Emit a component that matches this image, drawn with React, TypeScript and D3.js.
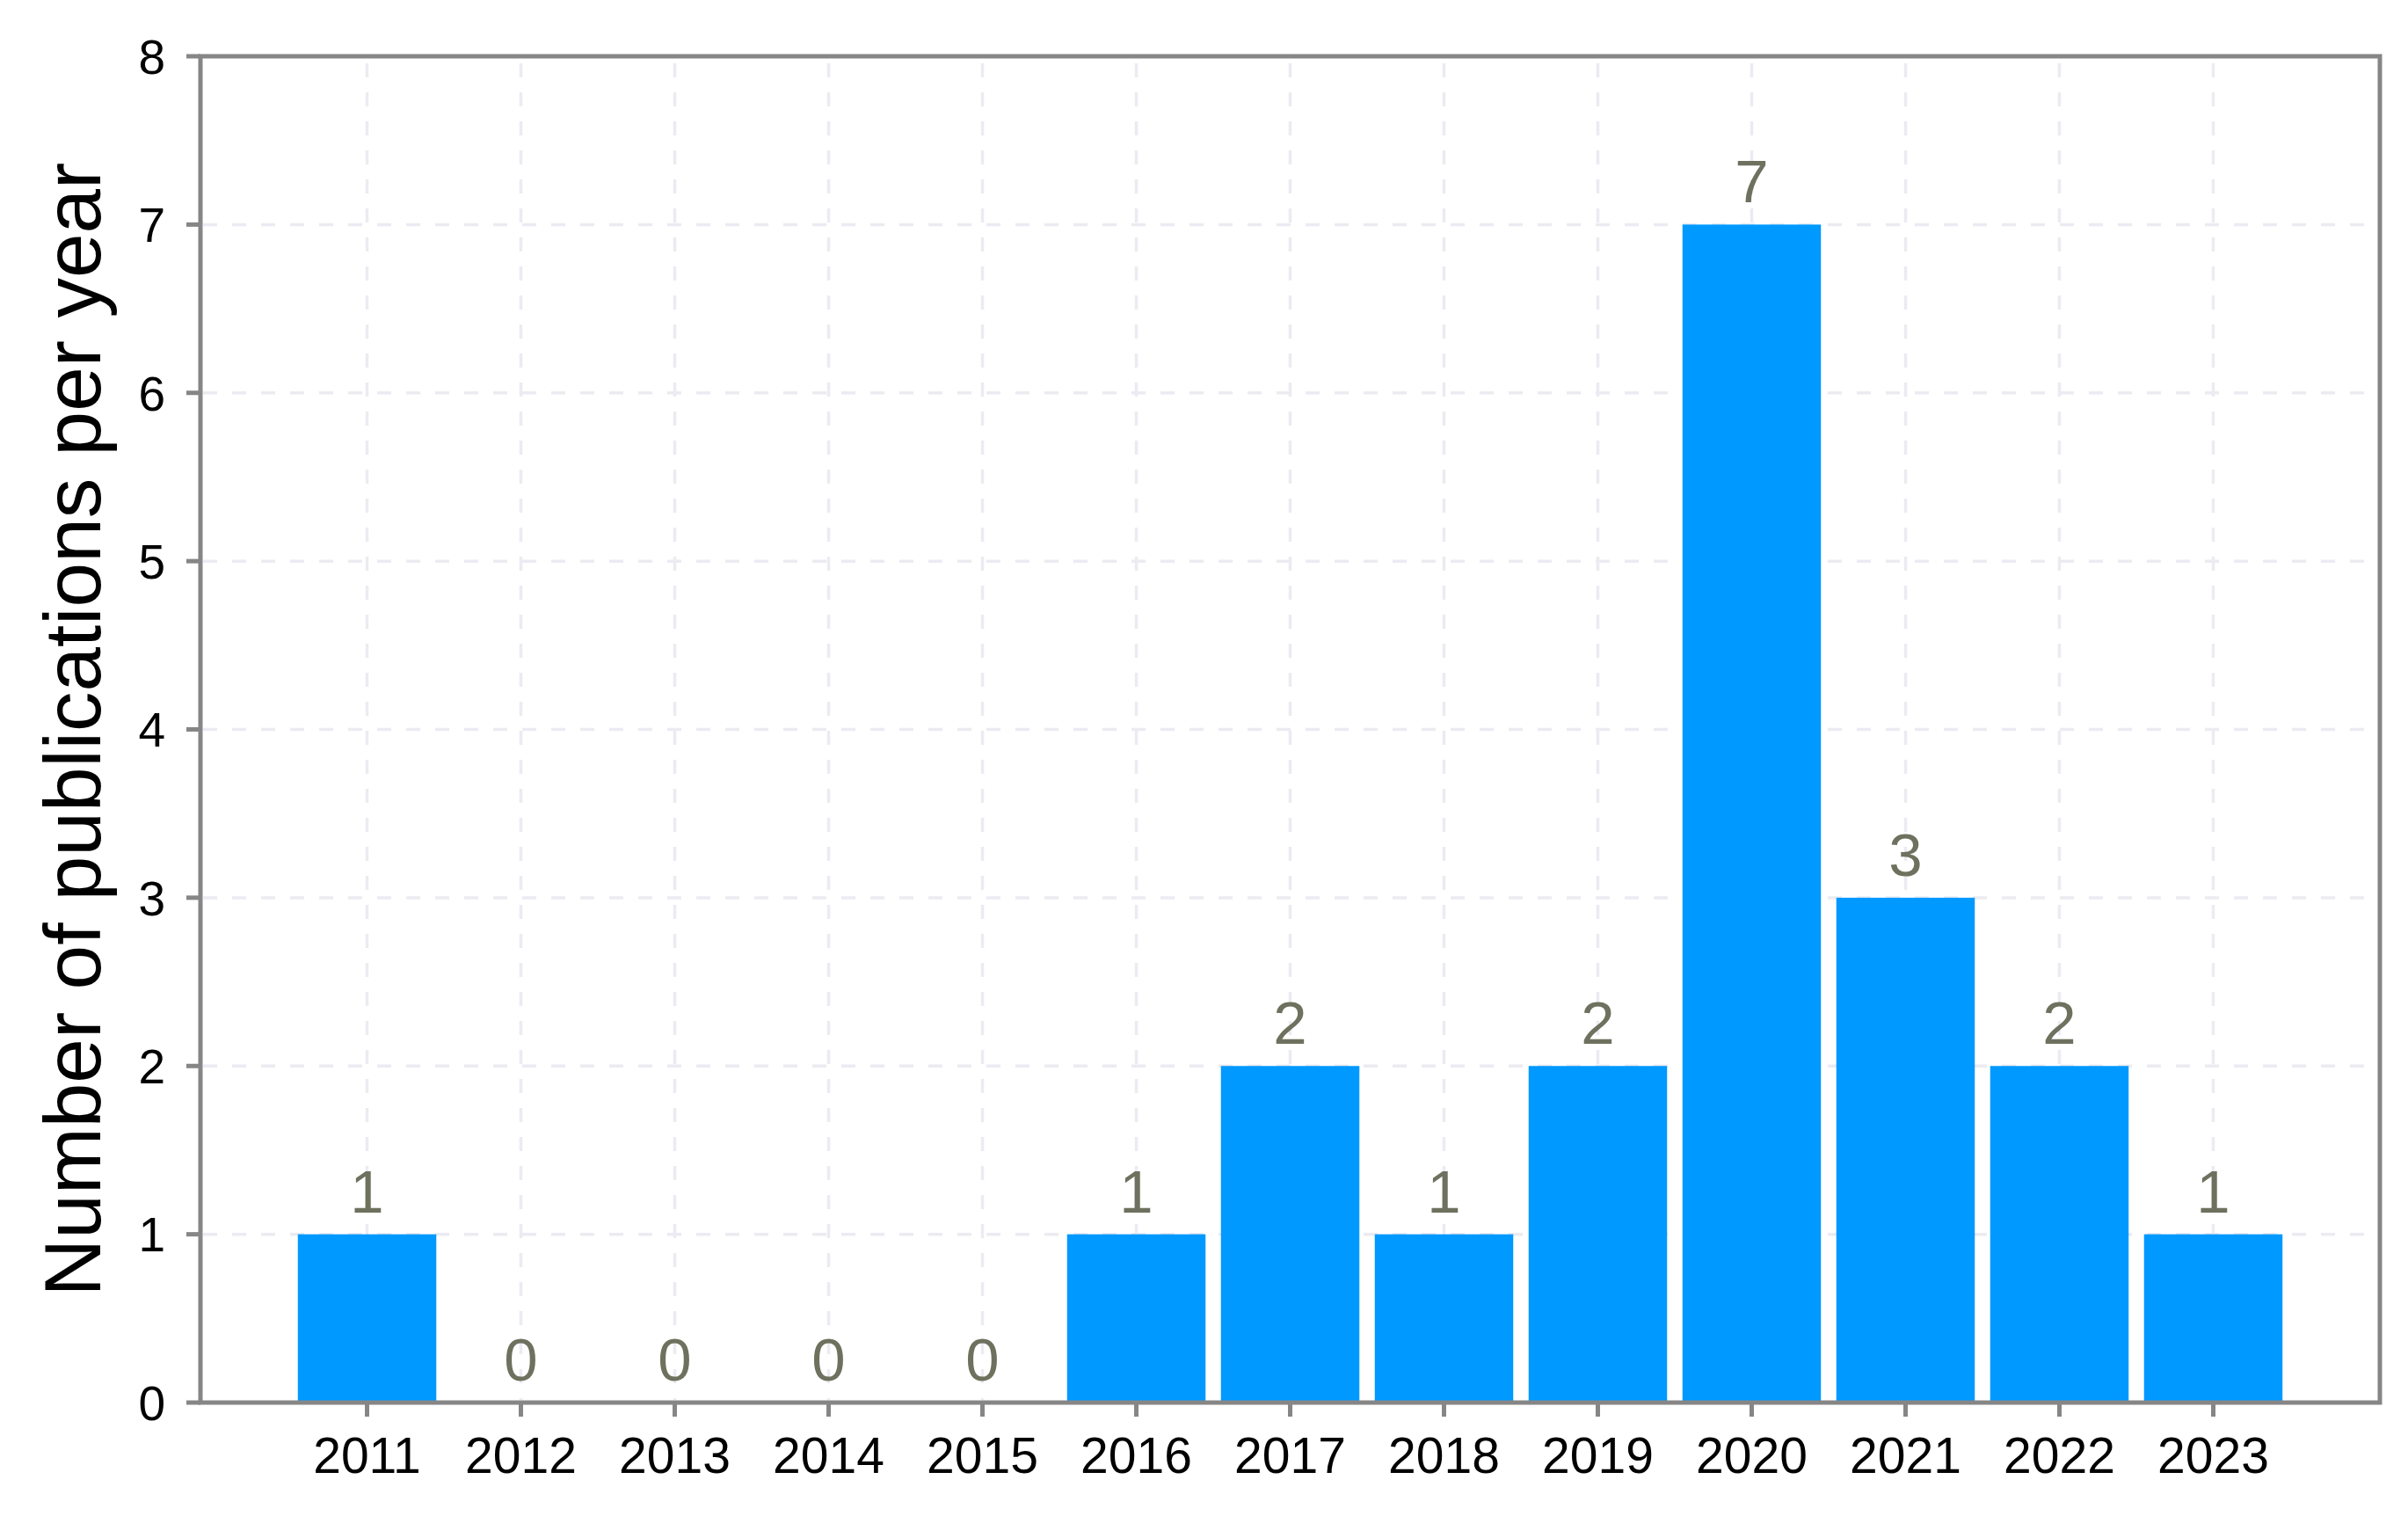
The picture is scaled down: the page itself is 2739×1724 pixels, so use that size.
import React from "react";
import * as d3 from "d3";

const years: string[] = ["2011", "2012", "2013", "2014", "2015", "2016", "2017", "2018", "2019", "2020", "2021", "2022", "2023"];
const counts: number[] = [1, 0, 0, 0, 0, 1, 2, 1, 2, 7, 3, 2, 1];
const yTicks: number[] = [0, 1, 2, 3, 4, 5, 6, 7, 8];
const yTitle = "Number of publications per year";

const W = 2739;
const H = 1724;
const left = 228;
const right = 2707;
const top = 64;
const bottom = 1595;
const FONT = "'Liberation Sans', Arial, sans-serif";
const AXIS = "#868686";
const GRID = "#ebebf2";
const BAR = "#0099ff";
const LABEL = "#6d715e";

export default function App() {
  const x = d3.scaleBand<string>().domain(years).range([left, right]).paddingInner(0.1).paddingOuter(0.633);
  const y = d3.scaleLinear().domain([0, 8]).range([bottom, top]);
  const bw = x.bandwidth();

  return (
    <div style={{ position: "fixed", left: 0, top: 0 }}>
      <svg width={W} height={H} style={{ display: "block", background: "#fff" }}>
        <rect x={0} y={0} width={W} height={H} fill="#fff" />
        {/* grid */}
        {yTicks.slice(1, -1).map((t) => (
          <line key={"gy" + t} x1={left + 3} x2={right - 3} y1={y(t)} y2={y(t)} stroke={GRID} strokeWidth={3.5} strokeDasharray="16 17" />
        ))}
        {years.map((yr) => (
          <line key={"gx" + yr} x1={(x(yr) as number) + bw / 2} x2={(x(yr) as number) + bw / 2} y1={top + 8} y2={bottom - 3} stroke={GRID} strokeWidth={3.5} strokeDasharray="16 17" />
        ))}
        {/* bars */}
        {years.map((yr, i) => (
          <rect key={"b" + yr} x={x(yr) as number} y={y(counts[i])} width={bw} height={bottom - y(counts[i])} fill={BAR} />
        ))}
        {/* value labels */}
        {years.map((yr, i) => (
          <text key={"l" + yr} x={(x(yr) as number) + bw / 2} y={y(counts[i]) - 25} textAnchor="middle" fontFamily={FONT} fontSize={69} fill={LABEL}>
            {counts[i]}
          </text>
        ))}
        {/* frame */}
        <rect x={left} y={top} width={right - left} height={bottom - top} fill="none" stroke={AXIS} strokeWidth={5} />
        {/* y ticks */}
        {yTicks.map((t) => (
          <g key={"yt" + t}>
            <line x1={left - 16} x2={left} y1={y(t)} y2={y(t)} stroke={AXIS} strokeWidth={5} />
            <text x={left - 40} y={y(t)} dy="0.36em" textAnchor="end" fontFamily={FONT} fontSize={55} fill="#000">
              {t}
            </text>
          </g>
        ))}
        {/* x ticks */}
        {years.map((yr) => (
          <g key={"xt" + yr}>
            <line x1={(x(yr) as number) + bw / 2} x2={(x(yr) as number) + bw / 2} y1={bottom} y2={bottom + 16} stroke={AXIS} strokeWidth={5} />
            <text x={(x(yr) as number) + bw / 2} y={1675} textAnchor="middle" fontFamily={FONT} fontSize={57} fill="#000">
              {yr}
            </text>
          </g>
        ))}
        {/* y title */}
        <text transform={`translate(114, ${(top + bottom) / 2}) rotate(-90)`} textAnchor="middle" fontFamily={FONT} fontSize={91} fill="#000">
          {yTitle}
        </text>
      </svg>
    </div>
  );
}
